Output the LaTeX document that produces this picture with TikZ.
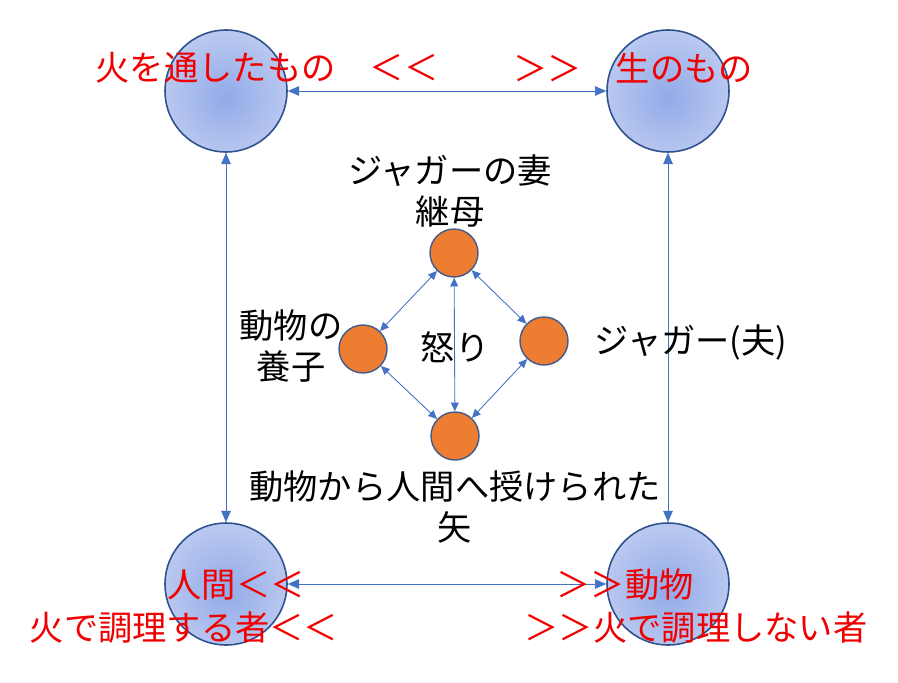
\documentclass[tikz,border=0pt]{standalone}
\usepackage{fontspec}
\setmainfont{Noto Sans CJK JP}
\usetikzlibrary{arrows.meta,positioning}

\definecolor{rimblue}{RGB}{47,82,143}
\definecolor{fillin}{RGB}{145,170,232}
\definecolor{fillout}{RGB}{205,215,243}
\definecolor{linkblue}{RGB}{68,114,196}
\definecolor{dotorange}{RGB}{237,125,49}
\definecolor{dotrim}{RGB}{65,90,140}
\definecolor{labred}{RGB}{240,0,0}

\pgfdeclareradialshading{softglow}{\pgfpoint{0bp}{-3bp}}{color(0bp)=(fillin); color(38bp)=(fillout); color(50bp)=(fillout)}

\tikzset{
  bigc/.style={circle, draw=rimblue, line width=0.9pt, shading=softglow, minimum size=2.44cm, inner sep=0pt},
  dot/.style={circle, draw=dotrim, line width=0.8pt, fill=dotorange, minimum size=0.96cm, inner sep=0pt},
  biarrow/.style={draw=linkblue, line width=0.5pt, {Triangle[length=6.5pt,width=5.5pt]}-{Triangle[length=6.5pt,width=5.5pt]}},
  smallarrow/.style={draw=linkblue, line width=0.5pt, {Triangle[length=5pt,width=4.5pt]}-{Triangle[length=5pt,width=4.5pt]}},
  lab/.style={font=\fontsize{19.5pt}{23.5pt}\selectfont, align=center, inner sep=0pt},
  redlab/.style={lab, text=labred}
}

\begin{document}
\begin{tikzpicture}[x=0.02cm, y=-0.02cm]
  \useasboundingbox (0,0) rectangle (898,682);
  %corners
  \node[bigc] (tl) at (226,91) {};
  \node[bigc] (tr) at (668,91) {};
  \node[bigc] (bl) at (226,584) {};
  \node[bigc] (br) at (668,584) {};
  \draw[biarrow] (tl) -- (tr);
  \draw[biarrow] (tl) -- (bl);
  \draw[biarrow] (tr) -- (br);
  \draw[biarrow] (bl) -- (br);
  %diamond
  \node[dot] (mom) at (454,253) {};
  \node[dot] (son) at (363,349) {};
  \node[dot] (jag) at (544,341) {};
  \node[dot] (gift) at (455,436) {};
  \draw[smallarrow] (mom) -- (son);
  \draw[smallarrow] (mom) -- (jag);
  \draw[smallarrow] (mom) -- (gift);
  \draw[smallarrow] (son) -- (gift);
  \draw[smallarrow] (jag) -- (gift);
  %labels
  \node[lab] (momlab) at (450,191) {ジャガーの妻\\継母};
  \node[lab] (sonlab) at (291,346) {動物の\\養子};
  \node[lab] (anger) at (455,347) {怒り};
  \node[lab] (jaglab) at (691,342) {ジャガー(夫)};
  \node[lab] (giftlab) at (455,507) {動物から人間へ授けられた\\矢};
  %red labels
  \node[redlab] (cooked) at (267,68) {火を通したもの　＜＜};
  \node[redlab] (raw) at (633,68) {＞＞　生のもの};
  \node[redlab] (human) at (236,585) {人間＜＜};
  \node[redlab] (cook) at (184,628) {火で調理する者＜＜};
  \node[redlab] (animal) at (625,585) {＞＞動物};
  \node[redlab] (nocook) at (696,628) {＞＞火で調理しない者};
\end{tikzpicture}
\end{document}
